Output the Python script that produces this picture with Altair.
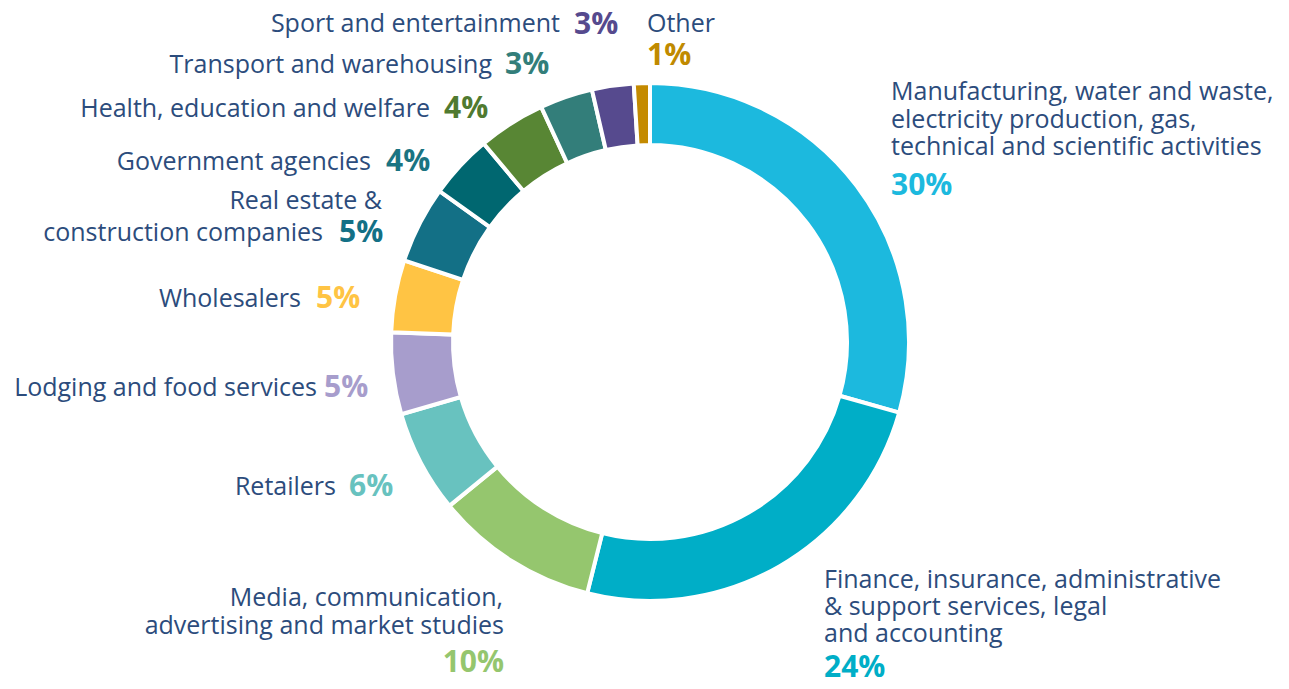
import altair as alt
import pandas as pd

# ---- data (clockwise from 12 o'clock) ----
categories = [
    "Manufacturing, water and waste,\nelectricity production, gas,\ntechnical and scientific activities",
    "Finance, insurance, administrative\n& support services, legal\nand accounting",
    "Media, communication,\nadvertising and market studies",
    "Retailers",
    "Lodging and food services",
    "Wholesalers",
    "Real estate &\nconstruction companies",
    "Government agencies",
    "Health, education and welfare",
    "Transport and warehousing",
    "Sport and entertainment",
    "Other",
]
shares = [29.4, 24.5, 10.2, 6.4, 5.1, 4.5, 4.8, 4.0, 4.2, 3.3, 2.6, 1.0]
pct_labels = ["30%", "24%", "10%", "6%", "5%", "5%", "5%", "4%", "4%", "3%", "3%", "1%"]
slice_colors = ["#1CB9DE", "#00AEC7", "#95C66E", "#68C2BF", "#A79DCC", "#FFC444",
                "#137086", "#006770", "#588634", "#337E7A", "#564A8E", "#C48A00"]
pct_colors = ["#1CB9DE", "#00AEC7", "#95C66E", "#68C2BF", "#A79DCC", "#FFC444",
              "#137086", "#1A7482", "#507A30", "#337E7A", "#564A8E", "#C08A00"]

# ---- label layout (page pixels, text anchor): per category ----
# (name line anchors [(x, y, align)...], pct anchor (x, y, align))
layout = [
    ([(891, 92, "left"), (891, 120, "left"), (891, 147, "left")], (891, 186, "left")),
    ([(824, 580, "left"), (824, 607, "left"), (824, 634, "left")], (824, 668, "left")),
    ([(503, 598, "right"), (504, 626, "right")], (504, 663, "right")),
    ([(336, 487, "right")], (349, 487, "left")),
    ([(317, 388, "right")], (324, 388, "left")),
    ([(301, 299, "right")], (316, 299, "left")),
    ([(382, 201, "right"), (323, 233, "right")], (339, 233, "left")),
    ([(371, 162, "right")], (386, 162, "left")),
    ([(430, 109, "right")], (444, 109, "left")),
    ([(492, 65, "right")], (505, 65, "left")),
    ([(560, 24, "right")], (574, 25, "left")),
    ([(647, 24, "left")], (647, 56, "left")),
]
MARGIN = 8
CX, CY = 650 - MARGIN, 342 - MARGIN
OUTER, INNER = 259, 197
TEXT_COLOR = "#2C4C7C"
FONT = "Open Sans"

slices = pd.DataFrame({
    "idx": list(range(len(categories))),
    "category": categories,
    "share": shares,
})

name_rows, pct_rows = [], []
for i, cat in enumerate(categories):
    lines = cat.split("\n")
    anchors, pa = layout[i]
    for line, (x, y, al) in zip(lines, anchors):
        name_rows.append({"text": line, "x": x - MARGIN, "y": y - MARGIN, "align": al})
    pct_rows.append({"text": pct_labels[i], "x": pa[0] - MARGIN, "y": pa[1] - MARGIN,
                     "align": pa[2], "color": pct_colors[i]})
names = pd.DataFrame(name_rows)
pcts = pd.DataFrame(pct_rows)

arc = alt.Chart(slices).mark_arc(
    radius=OUTER, innerRadius=INNER, stroke="white", strokeWidth=4
).encode(
    theta=alt.Theta("share:Q", stack=True),
    color=alt.Color("category:N", scale=alt.Scale(domain=categories, range=slice_colors), legend=None),
    order=alt.Order("idx:Q", sort="ascending"),
    x=alt.value(CX),
    y=alt.value(CY),
)

layers = [arc]
for al in ["left", "right"]:
    sub = names[names["align"] == al]
    if len(sub):
        layers.append(
            alt.Chart(sub).mark_text(
                align=al, baseline="middle", font=FONT, fontSize=25, color=TEXT_COLOR
            ).encode(
                x=alt.X("x:Q", scale=None, axis=None),
                y=alt.Y("y:Q", scale=None, axis=None),
                text="text:N",
            )
        )
    sub = pcts[pcts["align"] == al]
    if len(sub):
        layers.append(
            alt.Chart(sub).mark_text(
                align=al, baseline="middle", font=FONT, fontSize=30, fontWeight="bold"
            ).encode(
                x=alt.X("x:Q", scale=None, axis=None),
                y=alt.Y("y:Q", scale=None, axis=None),
                text="text:N",
                color=alt.Color("color:N", scale=None),
            )
        )

chart = alt.layer(*layers).properties(
    width=1273, height=673, padding=0,
    autosize=alt.AutoSizeParams(type="none"),
).configure_view(stroke=None)

chart.save("out.html", embed_options={"renderer": "svg", "actions": False})
